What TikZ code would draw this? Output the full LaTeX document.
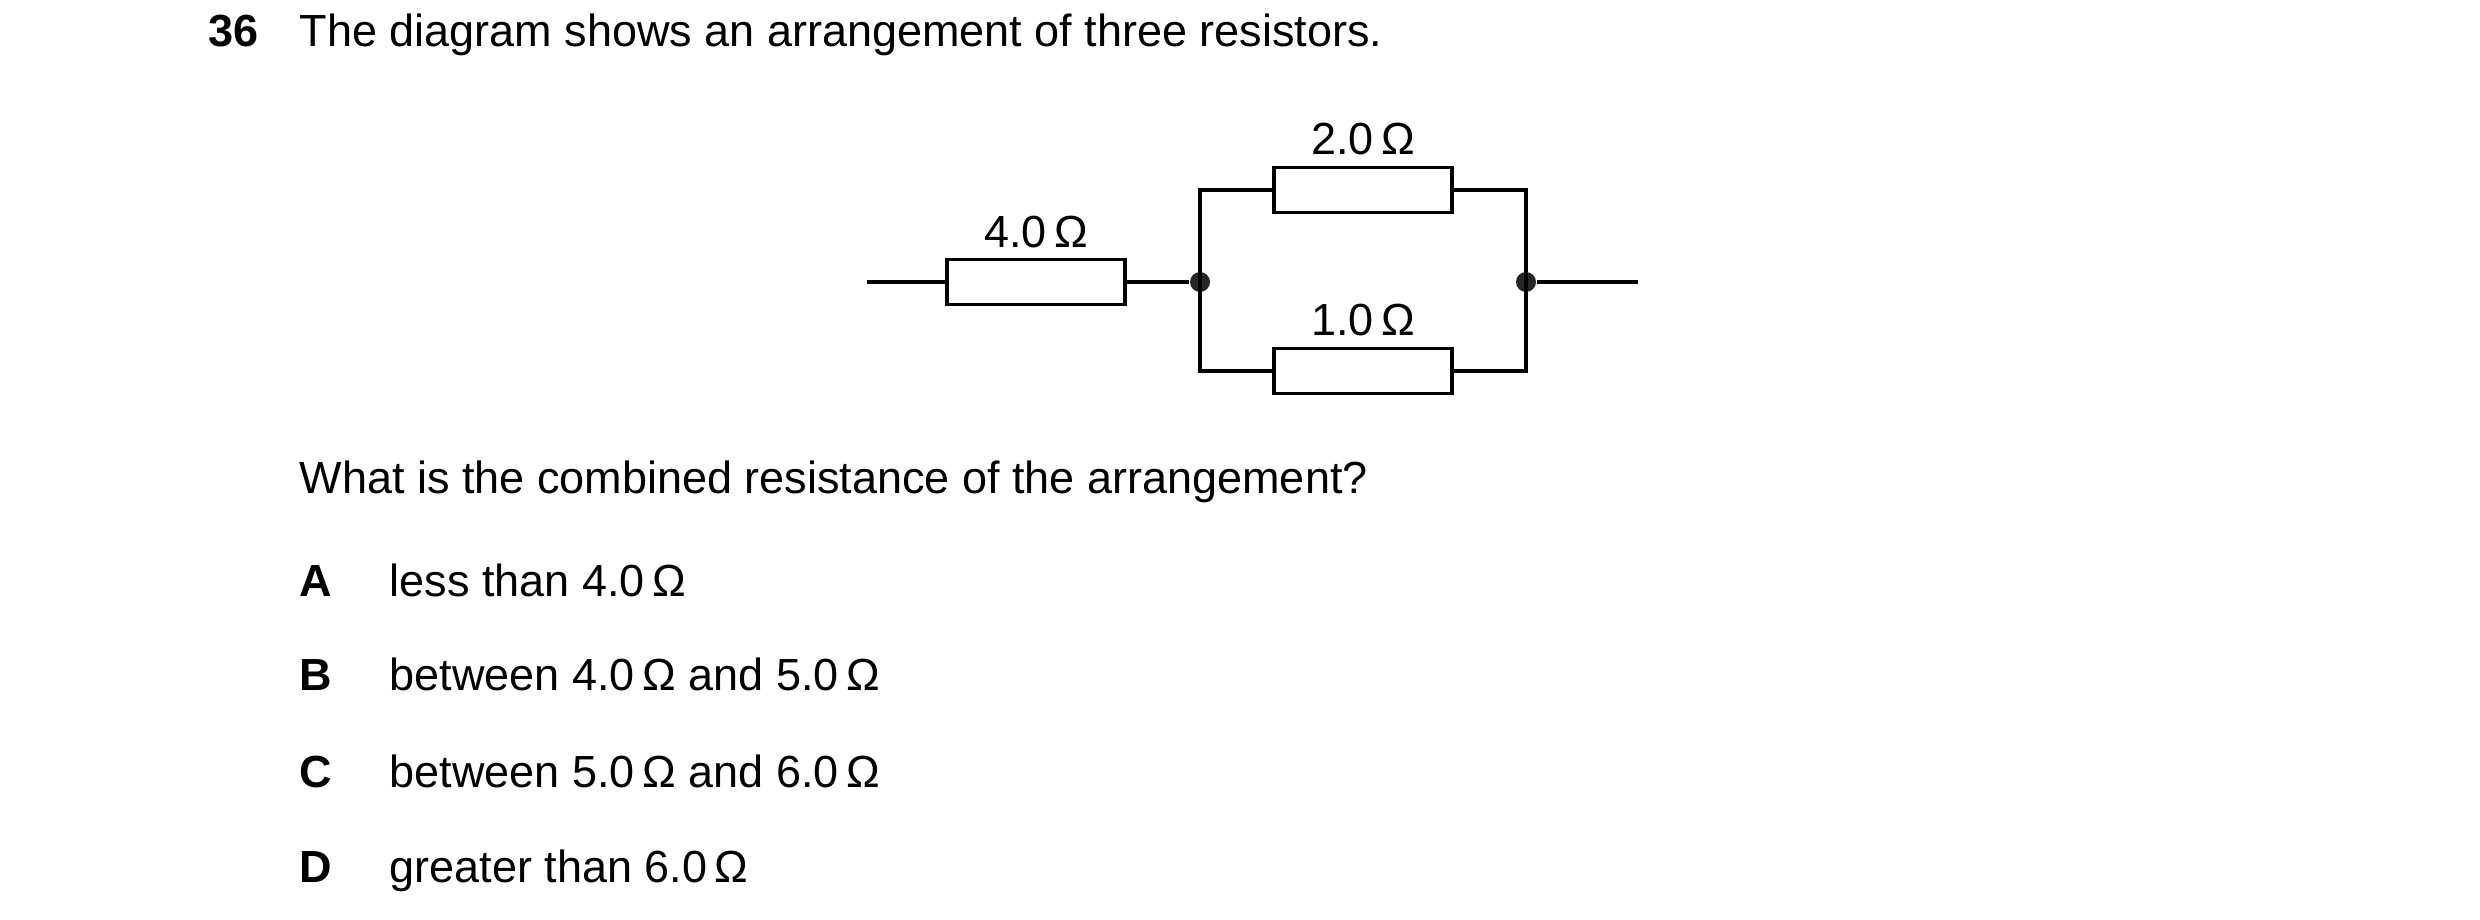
\documentclass[tikz,border=0pt]{standalone}
\usepackage{fontspec}
\setmainfont{Liberation Sans}
\begin{document}
\begin{tikzpicture}[x=0.3pt,y=-0.3pt,
  txt/.style={anchor=base west,inner sep=0,font=\fontsize{13.5}{16}\selectfont},
  lbl/.style={anchor=base,inner sep=0,font=\fontsize{13.5}{16}\selectfont},
  res/.style={draw,line width=1pt,minimum width=178*0.3pt,minimum height=45*0.3pt,inner sep=0},
  wire/.style={line width=1pt},
  dot/.style={circle,fill=black!85,inner sep=0,minimum size=6pt}]
\useasboundingbox (0,0) rectangle (2480,920);
\node[txt,font=\fontsize{13.5}{16}\selectfont\bfseries] (n) at (208,47) {36};
\node[txt] (t) at (299,47) {The diagram shows an arrangement of three resistors.};
% circuit
\coordinate (L) at (867,282);
\coordinate (R) at (1638,282);
\node[res] (r4) at (1036,282) {};
\node[res] (r2) at (1363,190) {};
\node[res] (r1) at (1363,371) {};
\node[dot] (j1) at (1200,282) {};
\node[dot] (j2) at (1526,282) {};
\draw[wire] (L) -- (r4.west);
\draw[wire] (r4.east) -- (j1);
\draw[wire] (j1.center) |- (r2.west);
\draw[wire] (j1.center) |- (r1.west);
\draw[wire] (r2.east) -| (j2.center);
\draw[wire] (r1.east) -| (j2.center);
\draw[wire] (j2) -- (R);
\node[lbl] (l4) at (1036,248) {4.0\,Ω};
\node[lbl] (l2) at (1363,155) {2.0\,Ω};
\node[lbl] (l1) at (1363,336) {1.0\,Ω};
% question
\node[txt] (q) at (299,494) {What is the combined resistance of the arrangement?};
\node[txt,font=\fontsize{13.5}{16}\selectfont\bfseries] (a) at (299,597) {A};
\node[txt] (at) at (389,597) {less than 4.0\,Ω};
\node[txt,font=\fontsize{13.5}{16}\selectfont\bfseries] (b) at (299,691) {B};
\node[txt] (bt) at (389,691) {between 4.0\,Ω and 5.0\,Ω};
\node[txt,font=\fontsize{13.5}{16}\selectfont\bfseries] (c) at (299,787) {C};
\node[txt] (ct) at (389,787) {between 5.0\,Ω and 6.0\,Ω};
\node[txt,font=\fontsize{13.5}{16}\selectfont\bfseries] (d) at (299,882) {D};
\node[txt] (dt) at (389,882) {greater than 6.0\,Ω};
\end{tikzpicture}
\end{document}
